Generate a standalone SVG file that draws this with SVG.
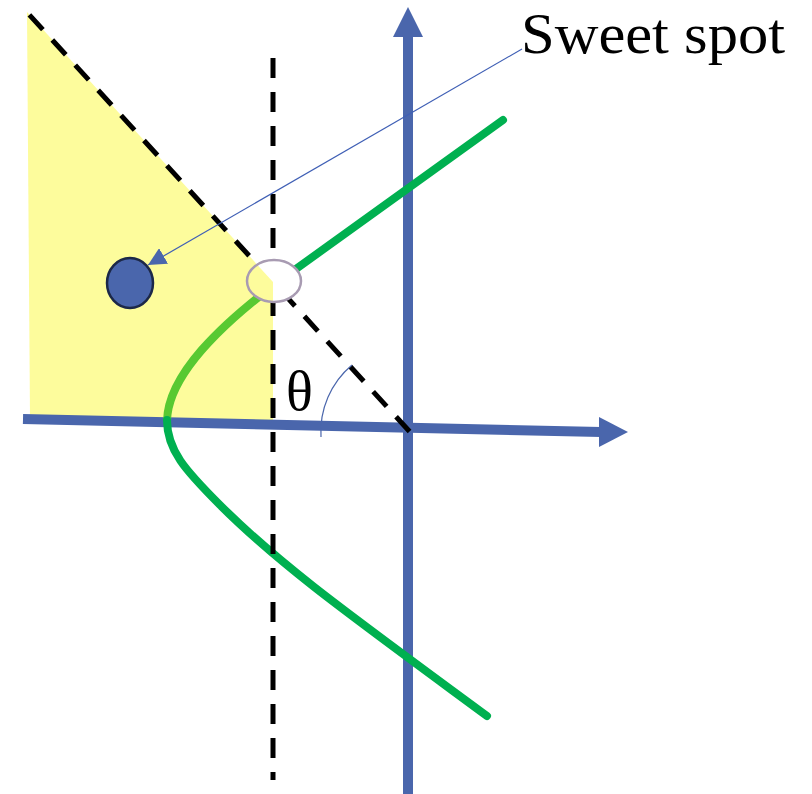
<svg xmlns="http://www.w3.org/2000/svg" width="812" height="794" viewBox="0 0 812 794">
<defs>
<style>
.axis{stroke:#4a66ac;stroke-width:10;fill:none}
.head{fill:#4a66ac}
.green{stroke:#00b050;stroke-width:8;fill:none;stroke-linecap:round}
.lime{stroke:#58c932;stroke-width:8;fill:none}
.dash{stroke:#000;stroke-width:5;fill:none;stroke-dasharray:20 14}
.lbl{font-family:"Liberation Serif","DejaVu Serif",serif;fill:#000}
</style>
<marker id="ah" viewBox="0 0 10 10" refX="10" refY="5" markerWidth="18" markerHeight="18" markerUnits="userSpaceOnUse" orient="auto">
<path d="M0,0 L10,5 L0,10 Z" fill="#4a66ac"/>
</marker>
<clipPath id="ec"><ellipse cx="274" cy="281" rx="27" ry="21"/></clipPath>
</defs>
<rect width="812" height="794" fill="#fff"/>
<g id="region">
<polygon points="27,12 273,282 273,421 30,419" fill="#fdfc9c"/>
</g>
<g id="axes">
<path class="axis" d="M23,419 L601,432"/>
<polygon class="head" points="599,417 628,432 599,447"/>
<path class="axis" d="M408,794 L408,35"/>
<polygon class="head" points="393,37 408,7 423,37"/>
</g>
<g id="curve">
<path class="green" d="M503,120 L282,279"/>
<path class="lime" d="M282,279 C220,325 168,375 167,421"/>
<path class="green" d="M167,420 C167,450 185,470 220,505 C280,565 350,615 487,716"/>
</g>
<g id="dashes">
<path class="dash" d="M24,9 L410,432" stroke-dashoffset="26"/>
<path class="dash" d="M273,58 L273,780"/>
</g>
<g id="spot">
<ellipse cx="274" cy="281" rx="27" ry="21" fill="#fff"/>
<polygon points="27,12 273,282 273,421 30,419" fill="#fdfc9c" clip-path="url(#ec)"/>
<ellipse cx="274" cy="281" rx="27" ry="21" fill="none" stroke="#a89bb2" stroke-width="2.5"/>
</g>
<g id="dot">
<ellipse cx="130" cy="283" rx="23" ry="25" fill="#4a66ac" stroke="#1c2848" stroke-width="2.5"/>
</g>
<g id="angle">
<path d="M321,437 A87,87 0 0 1 352,365" fill="none" stroke="#4a66ac" stroke-width="1.2"/>
<text class="lbl" x="286" y="410" font-size="56">θ</text>
</g>
<g id="connectors">
<line x1="522" y1="49" x2="148" y2="265" stroke="#3f5fb5" stroke-width="1.2" marker-end="url(#ah)"/>
</g>
<g id="label">
<text class="lbl" x="521" y="53" font-size="58" textLength="264" lengthAdjust="spacingAndGlyphs">Sweet spot</text>
</g>
</svg>
